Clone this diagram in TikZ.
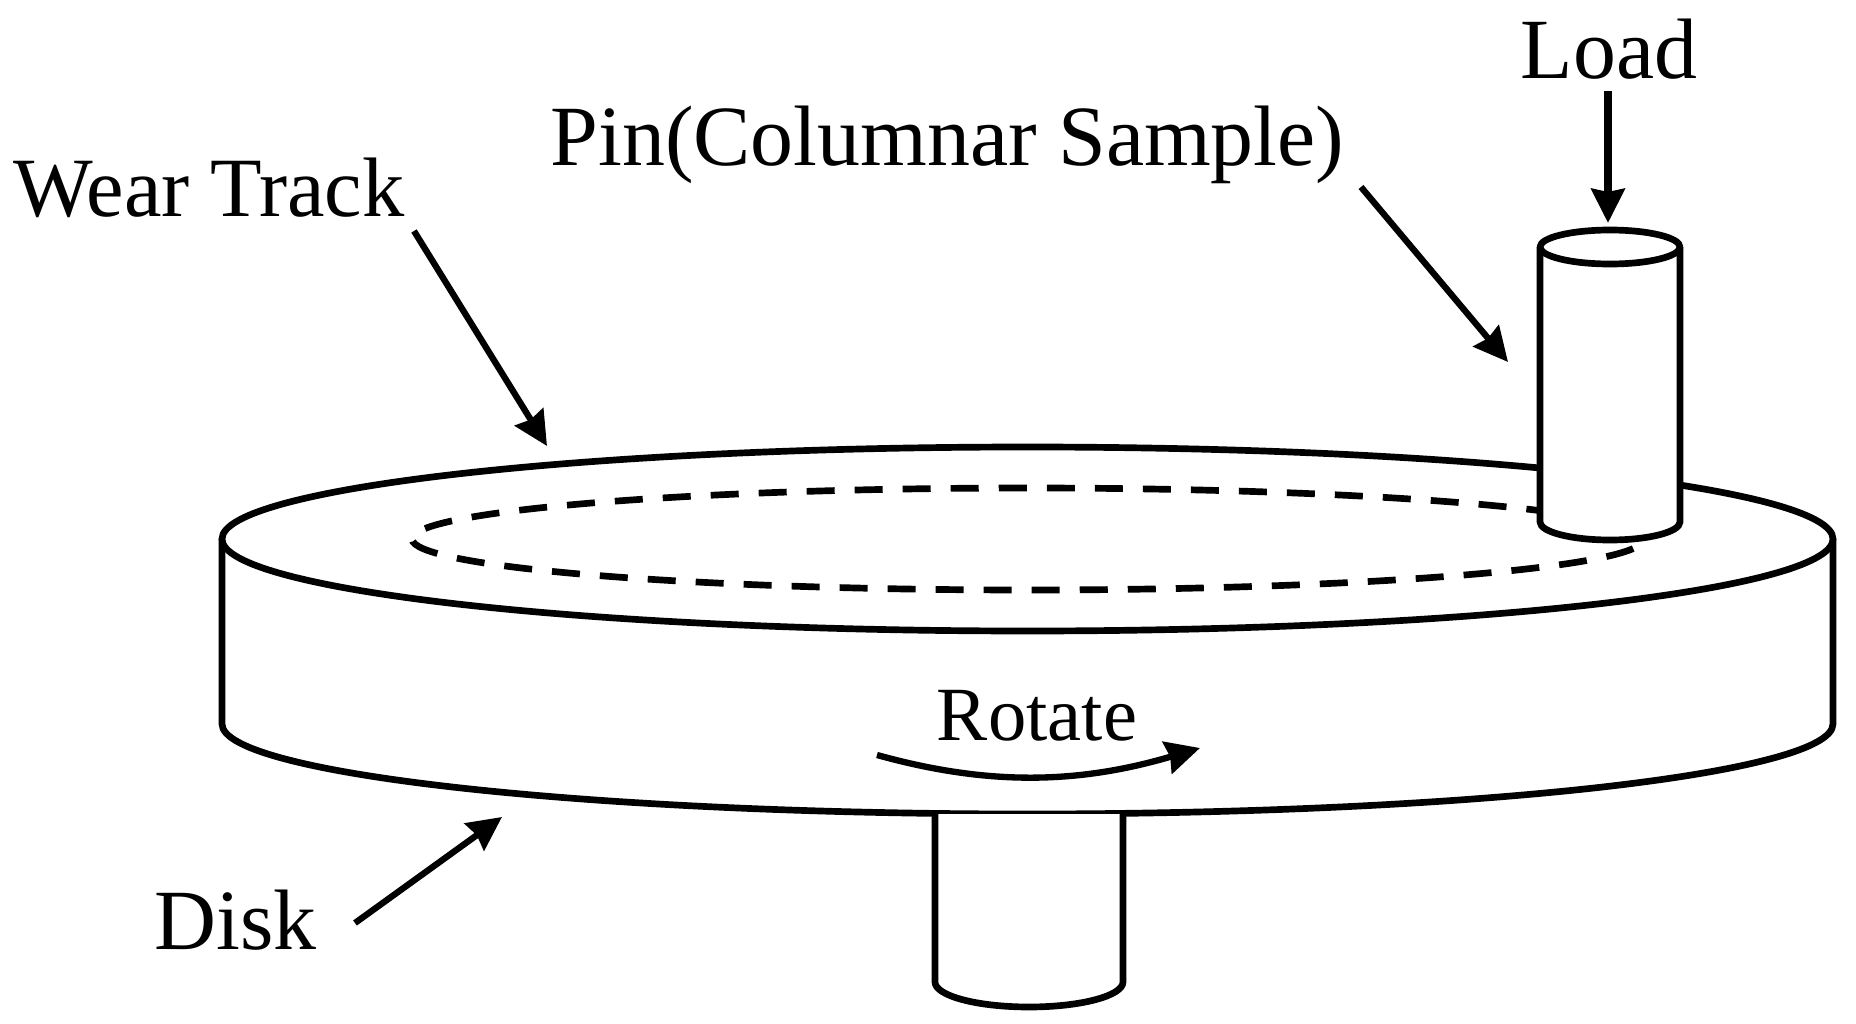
\documentclass[tikz,border=0pt]{standalone}
\usepackage{fontspec}
\setmainfont{Liberation Serif}
\usetikzlibrary{arrows.meta}
\tikzset{
  part/.style={draw=black, line width=1.9pt, fill=white, line join=round},
  track/.style={draw=black, line width=1.9pt, dash pattern=on 0.28cm off 0.2cm},
  pointer/.style={draw=black, line width=1.8pt, -{Stealth[length=0.34cm,width=0.33cm,inset=0.03cm]}},
  bigtext/.style={inner sep=0pt, anchor=base west, font=\fontsize{24.4}{24}\selectfont},
  smalltext/.style={inner sep=0pt, anchor=base, font=\fontsize{21.8}{24}\selectfont}
}
\begin{document}
\begin{tikzpicture}[x=0.01cm, y=0.01cm]
            \useasboundingbox (0,0) rectangle (1856,-1024);
            % disk
            \draw [part] (222,-539) -- (222,-724) arc (180:360:805.5 and 90) -- (1833,-539);
            \draw [part] (1027.5,-539) ellipse (805.5 and 92);
            \draw [track] (1028,-539) ellipse (616 and 51);
            % shaft
            \draw [part] (935,-814) -- (935,-982) arc (180:360:94 and 25) -- (1123,-814);
            % pin
            \draw [part] (1540,-247) -- (1540,-522) arc (180:360:70 and 18) -- (1680,-247);
            \draw [part] (1610,-247) ellipse (70 and 17);
            % labels
            \node (load) [bigtext] at (1520,-78) {Load};
            \node (pin) [bigtext] at (550,-166) {Pin(Columnar Sample)};
            \node (wear) [bigtext, font=\fontsize{24}{24}\selectfont] at (13,-216) {Wear Track};
            \node (disk) [bigtext] at (154,-949) {Disk};
            \node (rotate) [smalltext] at (1037,-740) {Rotate};
            % arrow ends
            \coordinate (loadtail) at (1608,-91);
            \coordinate (loadtip) at (1608,-223);
            \coordinate (pintail) at (1361,-187);
            \coordinate (pintip) at (1508,-362);
            \coordinate (weartail) at (414,-231);
            \coordinate (weartip) at (547,-446);
            \coordinate (disktail) at (355,-923);
            \coordinate (disktip) at (502,-817);
            \coordinate (rotatetail) at (877,-755);
            \coordinate (rotatetip) at (1200,-748);
            \draw [pointer, line width=2.4pt] (loadtail) -- (loadtip);
            \draw [pointer] (pintail) -- (pintip);
            \draw [pointer] (weartail) -- (weartip);
            \draw [pointer] (disktail) -- (disktip);
            \draw [pointer] (rotatetail) .. controls (985,-785) and (1075,-785) .. (rotatetip);
\end{tikzpicture}
\end{document}
